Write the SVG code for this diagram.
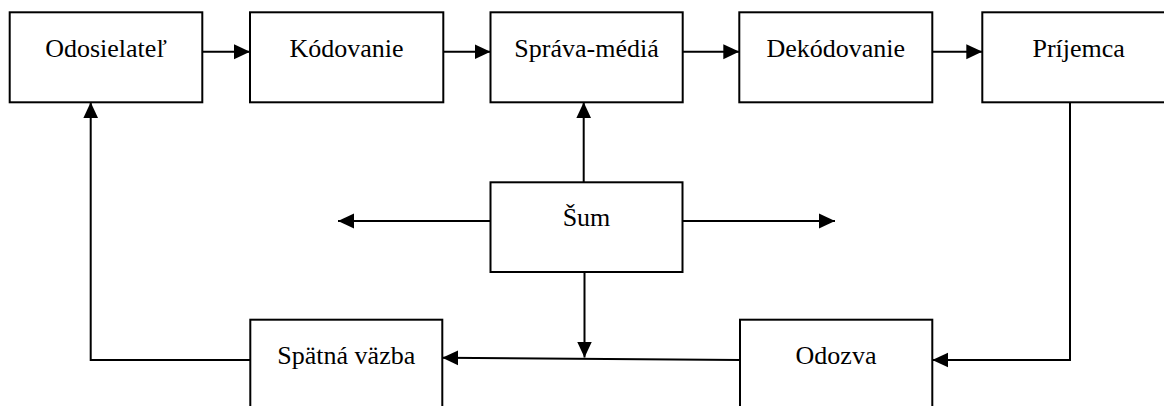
<svg xmlns="http://www.w3.org/2000/svg" width="1164" height="406" viewBox="0 0 1164 406">
  <style>
    .box { fill: #ffffff; stroke: #000000; stroke-width: 2; }
    .lbl { font-family: "Liberation Serif", "Times New Roman", serif; font-size: 26px; fill: #000000; text-anchor: middle; }
    .con { fill: none; stroke: #000000; stroke-width: 2; }
    .arr { marker-end: url(#ah); }
  </style>
  <defs>
    <marker id="ah" markerUnits="userSpaceOnUse" markerWidth="16" markerHeight="16" viewBox="0 0 15 14" refX="15" refY="7" orient="auto">
      <path d="M0,0 L15,7 L0,14 Z" fill="#000000"/>
    </marker>
  </defs>
  <rect width="1164" height="406" fill="#ffffff"/>

  <g id="connectors">
    <path class="con arr" d="M202.3,51.7 L250,51.7"/>
    <path class="con arr" d="M443.3,51.7 L490.5,51.7"/>
    <path class="con arr" d="M682.7,51.7 L739.3,51.7"/>
    <path class="con arr" d="M932.3,51.7 L982.3,51.7"/>
    <path class="con arr" d="M583.7,182.3 L583.7,102.3"/>
    <path class="con arr" d="M490.5,221 L338,221"/>
    <path class="con arr" d="M682.5,221 L835,221"/>
    <path class="con arr" d="M584.5,272 L584.5,357.5"/>
    <path class="con arr" d="M1070,102.3 L1070,360 L932.3,360"/>
    <path class="con arr" d="M740,360 L442.3,357.7"/>
    <path class="con arr" d="M250.3,360 L90.7,360 L90.7,102.3"/>
  </g>

  <g id="odosielatel">
    <rect class="box" x="9.7" y="12.3" width="192.6" height="90"/>
    <text class="lbl" x="106" y="56.5">Odosielateľ</text>
  </g>
  <g id="kodovanie">
    <rect class="box" x="250" y="12.3" width="193.3" height="90"/>
    <text class="lbl" x="346.5" y="56.5">Kódovanie</text>
  </g>
  <g id="sprava-media">
    <rect class="box" x="490.5" y="12.3" width="192.2" height="90"/>
    <text class="lbl" x="586.5" y="56.5">Správa-médiá</text>
  </g>
  <g id="dekodovanie">
    <rect class="box" x="739.3" y="12.3" width="193" height="90"/>
    <text class="lbl" x="835.8" y="56.5">Dekódovanie</text>
  </g>
  <g id="prijemca">
    <rect class="box" x="982.3" y="12.3" width="193" height="90"/>
    <text class="lbl" x="1078.7" y="56.5">Príjemca</text>
  </g>
  <g id="sum">
    <rect class="box" x="490.5" y="182.3" width="192" height="89.7"/>
    <text class="lbl" x="586.5" y="226.3">Šum</text>
  </g>
  <g id="spatna-vazba">
    <rect class="box" x="250.3" y="319.7" width="192" height="95"/>
    <text class="lbl" x="346.3" y="364">Spätná väzba</text>
  </g>
  <g id="odozva">
    <rect class="box" x="740" y="319.7" width="192.3" height="95"/>
    <text class="lbl" x="836" y="364">Odozva</text>
  </g>
</svg>
